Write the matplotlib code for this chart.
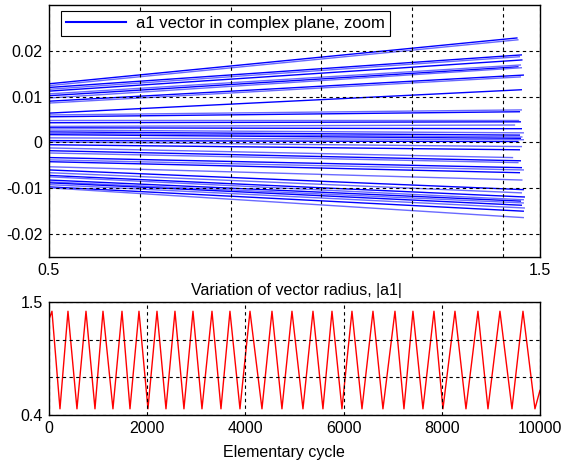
import numpy as np
import matplotlib
matplotlib.use('Agg')
import matplotlib.pyplot as plt
from matplotlib.lines import Line2D

plt.rcParams['font.family'] = ['Liberation Sans', 'DejaVu Sans']
plt.rcParams['font.size'] = 11.5

# top panel: one sweep of a1 per line, from |a1| = 0.5 to the sweep end
sweep_start_y = [0.0128, 0.0124, 0.0120, 0.0116, 0.0112, 0.0106, 0.0102, 0.0097,
                 0.0090, 0.0086, 0.0064, 0.0060, 0.0056, 0.0049, 0.0043, 0.0035,
                 0.0032, 0.0027, 0.0023, 0.0020, 0.0017, 0.0010, 0.0004, 0.0001,
                 -0.0005, -0.0012, -0.0018, -0.0023, -0.0033, -0.0038, -0.0042,
                 -0.0053, -0.0060, -0.0066, -0.0072, -0.0075, -0.0082, -0.0086,
                 -0.0088, -0.0092, -0.0097, -0.0099]
sweep_end_y = [0.0228, 0.0224, 0.0191, 0.0187, 0.0180, 0.0169, 0.0165, 0.0163,
               0.0147, 0.0143, 0.0115, 0.0071, 0.0067, 0.0049, 0.0045, 0.0038,
               0.0030, 0.0021, 0.0016, 0.0012, 0.0009, 0.0006, 0.0002, -0.0009,
               -0.0016, -0.0033, -0.0040, -0.0044, -0.0055, -0.0060, -0.0066,
               -0.0082, -0.0103, -0.0110, -0.0119, -0.0125, -0.0128, -0.0132,
               -0.0137, -0.0143, -0.0150, -0.0164]
sweep_end_x = [1.453, 1.455, 1.462, 1.458, 1.463, 1.460, 1.455, 1.462,
               1.466, 1.460, 1.462, 1.462, 1.458, 1.455, 1.460, 1.448,
               1.462, 1.466, 1.458, 1.463, 1.460, 1.466, 1.455, 1.462,
               1.458, 1.444, 1.460, 1.455, 1.462, 1.466, 1.458, 1.463,
               1.466, 1.462, 1.468, 1.466, 1.460, 1.466, 1.462, 1.468,
               1.466, 1.466]
sweep_x0 = 0.5

x_grid_top = [0.5, 0.6853, 0.8707, 1.0540, 1.2393, 1.4246, 1.5]
x_labels_top = ['0.5', '', '', '', '', '', '1.5']
y_ticks_top = [-0.02, -0.01, 0, 0.01, 0.02]
y_labels_top = ['-0.02', '-0.01', '0', '0.01', '0.02']

# bottom panel: |a1| turning points over elementary cycles
cycle = [0, 61, 224, 387, 570, 754, 937, 1100, 1303, 1487, 1650, 1833, 2016,
         2200, 2383, 2566, 2749, 2933, 3116, 3320, 3503, 3686, 3890, 4094, 4338,
         4542, 4745, 4949, 5173, 5377, 5580, 5764, 5967, 6171, 6375, 6599, 6802,
         7047, 7230, 7413, 7617, 7841, 8024, 8269, 8493, 8737, 8941, 9185, 9430,
         9654, 9898, 10000]
radius = [1.33, 1.41, 0.46, 1.41, 0.46, 1.41, 0.46, 1.41, 0.46, 1.41, 0.46,
          1.41, 0.46, 1.41, 0.46, 1.41, 0.46, 1.41, 0.46, 1.41, 0.46, 1.41,
          0.46, 1.41, 0.46, 1.41, 0.46, 1.41, 0.46, 1.41, 0.46, 1.41, 0.46,
          1.41, 0.46, 1.41, 0.46, 1.41, 0.46, 1.41, 0.46, 1.41, 0.46, 1.41,
          0.46, 1.41, 0.46, 1.41, 0.46, 1.41, 0.46, 0.64]

y_ticks_bot = [0.4, 0.7667, 1.1333, 1.5]
y_labels_bot = ['0.4', '', '', '1.5']
x_ticks_bot = [0, 2000, 4000, 6000, 8000, 10000]

fig = plt.figure(figsize=(5.61, 4.61), dpi=100)
ax1 = fig.add_axes([0.0873, 0.4425, 0.8752, 0.5467])
ax2 = fig.add_axes([0.0873, 0.0998, 0.8752, 0.2451])

grid_kw = dict(color='k', linestyle=(0, (3, 3)), linewidth=0.8)

for i in range(len(sweep_start_y)):
    c = 'blue' if i % 2 == 0 else '#6a6aff'
    ax1.plot([sweep_x0, sweep_end_x[i]], [sweep_start_y[i], sweep_end_y[i]],
             color=c, lw=1.0)
ax1.set_xlim(0.5, 1.5)
ax1.set_ylim(-0.025, 0.03)
ax1.set_xticks(x_grid_top)
ax1.set_xticklabels(x_labels_top)
ax1.set_yticks(y_ticks_top)
ax1.set_yticklabels(y_labels_top)
ax1.grid(True, **grid_kw)
ax1.set_axisbelow(False)
ax1.tick_params(length=0, pad=4.5)
ax1.set_xlabel('Variation of vector radius, |a1|')
ax1.xaxis.set_label_coords(0.503, -0.103)
handle = Line2D([], [], color='blue', lw=1.5)
leg = ax1.legend([handle], ['a1 vector in complex plane, zoom'], loc='upper left',
                 bbox_to_anchor=(0.0244, 0.976), borderaxespad=0, fancybox=False,
                 edgecolor='black', framealpha=1, handlelength=3.6,
                 borderpad=0.3, handletextpad=0.6, fontsize=12)
leg.get_frame().set_linewidth(0.8)

ax2.plot(cycle, radius, color='red', lw=1.0)
ax2.set_xlim(0, 10000)
ax2.set_ylim(0.4, 1.5)
ax2.set_xticks(x_ticks_bot)
ax2.set_yticks(y_ticks_bot)
ax2.set_yticklabels(y_labels_bot)
ax2.grid(True, **grid_kw)
ax2.set_axisbelow(False)
ax2.tick_params(length=0, pad=4.5)
ax2.set_xlabel('Elementary cycle')
ax2.xaxis.set_label_coords(0.479, -0.265)

for ax in (ax1, ax2):
    for s in ax.spines.values():
        s.set_linewidth(1.0)

fig.savefig('out.png', dpi=100, facecolor='white')
